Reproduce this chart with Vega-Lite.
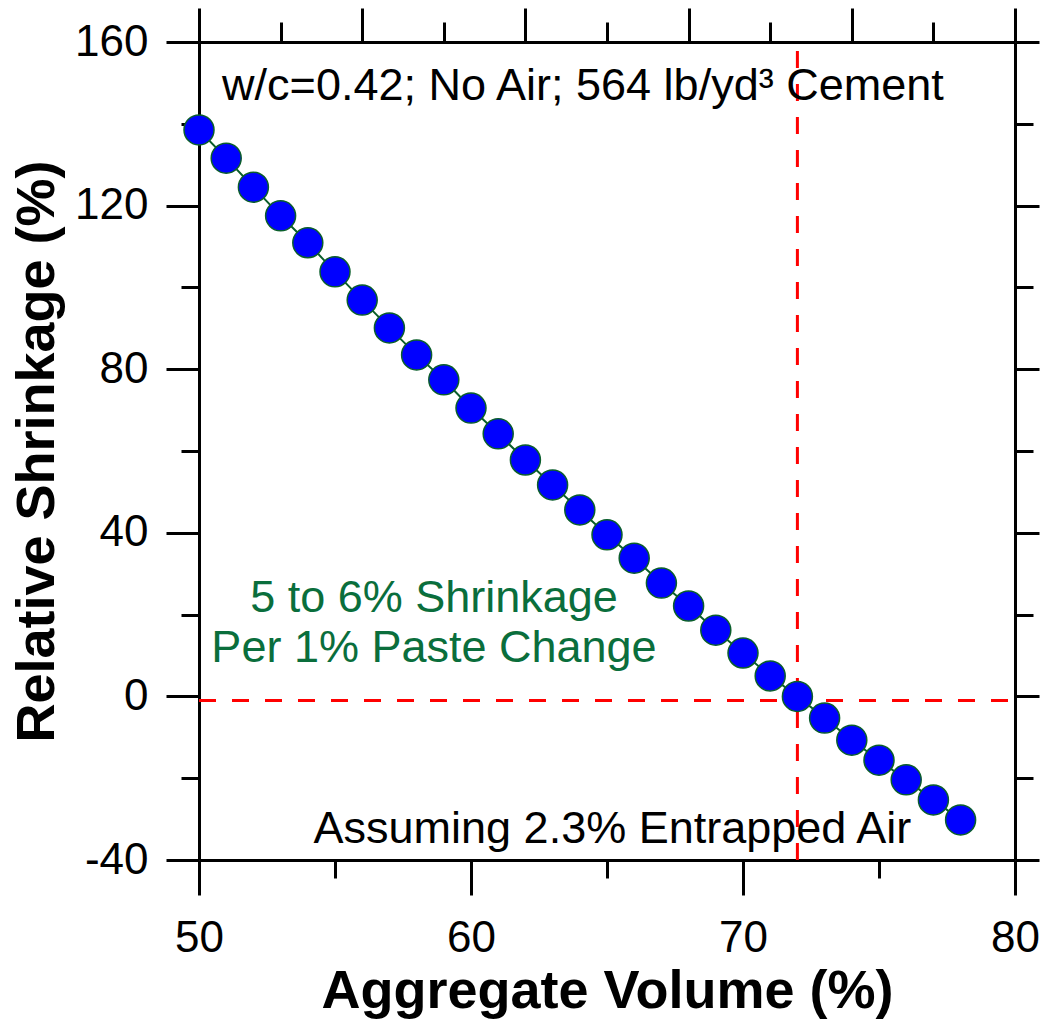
{
  "$schema": "https://vega.github.io/schema/vega-lite/v6.json",
  "width": 816,
  "height": 818,
  "autosize": {"type": "none"},
  "padding": {"left": 199, "top": 42, "right": 25, "bottom": 161},
  "background": "white",
  "config": {
    "view": {"stroke": null},
    "axis": {
      "grid": false,
      "domainColor": "black",
      "domainWidth": 3,
      "tickColor": "black",
      "tickWidth": 3,
      "labelFont": "Liberation Sans",
      "labelFontSize": 44,
      "labelColor": "black",
      "labelFlush": false,
      "labelOverlap": false,
      "labelBound": false,
      "titleFont": "Liberation Sans",
      "titleFontSize": 54,
      "titleFontWeight": "bold",
      "titleColor": "black"
    }
  },
  "datasets": {
    "pts": [
      {"agg": 50, "shr": 138.5}, {"agg": 51, "shr": 131.6}, {"agg": 52, "shr": 124.5},
      {"agg": 53, "shr": 117.5}, {"agg": 54, "shr": 110.9}, {"agg": 55, "shr": 103.8},
      {"agg": 56, "shr": 96.9}, {"agg": 57, "shr": 90.1}, {"agg": 58, "shr": 83.5},
      {"agg": 59, "shr": 77.4}, {"agg": 60, "shr": 70.5}, {"agg": 61, "shr": 64.2},
      {"agg": 62, "shr": 57.8}, {"agg": 63, "shr": 51.7}, {"agg": 64, "shr": 45.6},
      {"agg": 65, "shr": 39.5}, {"agg": 66, "shr": 33.8}, {"agg": 67, "shr": 27.7},
      {"agg": 68, "shr": 22.1}, {"agg": 69, "shr": 16.2}, {"agg": 70, "shr": 10.6},
      {"agg": 71, "shr": 5.0}, {"agg": 72, "shr": 0.0}, {"agg": 73, "shr": -5.3},
      {"agg": 74, "shr": -10.7}, {"agg": 75, "shr": -15.6}, {"agg": 76, "shr": -20.4},
      {"agg": 77, "shr": -25.3}, {"agg": 78, "shr": -30.2}
    ],
    "vrule": [{"agg": 72, "y1": -40, "y2": 160}],
    "hrule": [{"x1": 50, "x2": 80, "shr": -1}],
    "toptext": [
      {"agg": 50.85, "shr": 145.8, "label": "w/c=0.42; No Air; 564 lb/yd³ Cement"}
    ],
    "bottomtext": [
      {"agg": 65.2, "shr": -35.8, "label": "Assuming 2.3% Entrapped Air"}
    ],
    "greentext": [
      {"agg": 58.64, "shr": 20.6, "label": "5 to 6% Shrinkage"},
      {"agg": 58.64, "shr": 8.4, "label": "Per 1% Paste Change"}
    ]
  },
  "resolve": {
    "scale": {"x": "shared", "y": "shared"},
    "axis": {"x": "independent", "y": "independent"}
  },
  "layer": [
    {
      "data": {"name": "vrule"},
      "mark": {"type": "rule", "color": "#ff0000", "strokeWidth": 3, "strokeDash": [17, 16]},
      "encoding": {
        "x": {"field": "agg", "type": "quantitative",
          "scale": {"domain": [50, 80], "nice": false, "zero": false},
          "axis": {"orient": "top", "values": [50, 56, 62, 68, 74, 80], "tickSize": 34, "labels": false, "title": null, "domain": true}},
        "y": {"field": "y1", "type": "quantitative",
          "scale": {"domain": [-40, 160], "nice": false, "zero": false},
          "axis": {"orient": "right", "values": [-40, 0, 40, 80, 120, 160], "tickSize": 24, "labels": false, "title": null, "domain": true}},
        "y2": {"field": "y2"}
      }
    },
    {
      "data": {"name": "hrule"},
      "mark": {"type": "rule", "color": "#ff0000", "strokeWidth": 3, "strokeDash": [17, 16]},
      "encoding": {
        "x": {"field": "x1", "type": "quantitative",
          "axis": {"orient": "top", "values": [53, 59, 65, 71, 77], "tickSize": 20, "labels": false, "title": null, "domain": false}},
        "x2": {"field": "x2"},
        "y": {"field": "shr", "type": "quantitative",
          "axis": {"orient": "right", "values": [-20, 20, 60, 100, 140], "tickSize": 18, "labels": false, "title": null, "domain": false}}
      }
    },
    {
      "data": {"name": "pts"},
      "mark": {"type": "line", "color": "#0b5e2b", "strokeWidth": 2},
      "encoding": {
        "x": {"field": "agg", "type": "quantitative",
          "axis": {"orient": "bottom", "values": [55, 65, 75], "tickSize": 18, "labels": false, "title": null, "domain": false}},
        "y": {"field": "shr", "type": "quantitative",
          "axis": {"orient": "left", "values": [-20, 20, 60, 100, 140], "tickSize": 18, "labels": false, "title": null, "domain": false}}
      }
    },
    {
      "data": {"name": "pts"},
      "mark": {"type": "point", "shape": "circle", "filled": true, "fill": "#0000ff", "stroke": "#0b5e2b", "strokeWidth": 1.5, "opacity": 1, "size": 900},
      "encoding": {
        "x": {"field": "agg", "type": "quantitative",
          "axis": {"orient": "bottom", "values": [50, 60, 70, 80], "tickSize": 35, "labelPadding": 56, "labelBaseline": "alphabetic", "title": "Aggregate Volume (%)", "titleBaseline": "alphabetic", "titleY": 147, "domain": true}},
        "y": {"field": "shr", "type": "quantitative",
          "axis": {"orient": "left", "values": [-40, 0, 40, 80, 120, 160], "tickSize": 33, "labelPadding": 18, "labelBaseline": "middle", "labelExpr": "toString(datum.value)", "title": "Relative Shrinkage (%)", "titleBaseline": "alphabetic", "titleAngle": -90, "titleX": -146, "titleY": 409, "titleAlign": "center", "domain": true}}
      }
    },
    {
      "data": {"name": "toptext"},
      "mark": {"type": "text", "font": "Liberation Sans", "fontSize": 45, "color": "black", "baseline": "alphabetic", "align": "left"},
      "encoding": {
        "x": {"field": "agg", "type": "quantitative", "axis": null},
        "y": {"field": "shr", "type": "quantitative", "axis": null},
        "text": {"field": "label"}
      }
    },
    {
      "data": {"name": "bottomtext"},
      "mark": {"type": "text", "font": "Liberation Sans", "fontSize": 45, "color": "black", "baseline": "alphabetic", "align": "center"},
      "encoding": {
        "x": {"field": "agg", "type": "quantitative", "axis": null},
        "y": {"field": "shr", "type": "quantitative", "axis": null},
        "text": {"field": "label"}
      }
    },
    {
      "data": {"name": "greentext"},
      "mark": {"type": "text", "font": "Liberation Sans", "fontSize": 45, "color": "#0a6e3c", "baseline": "alphabetic", "align": "center"},
      "encoding": {
        "x": {"field": "agg", "type": "quantitative", "axis": null},
        "y": {"field": "shr", "type": "quantitative", "axis": null},
        "text": {"field": "label"}
      }
    }
  ]
}
